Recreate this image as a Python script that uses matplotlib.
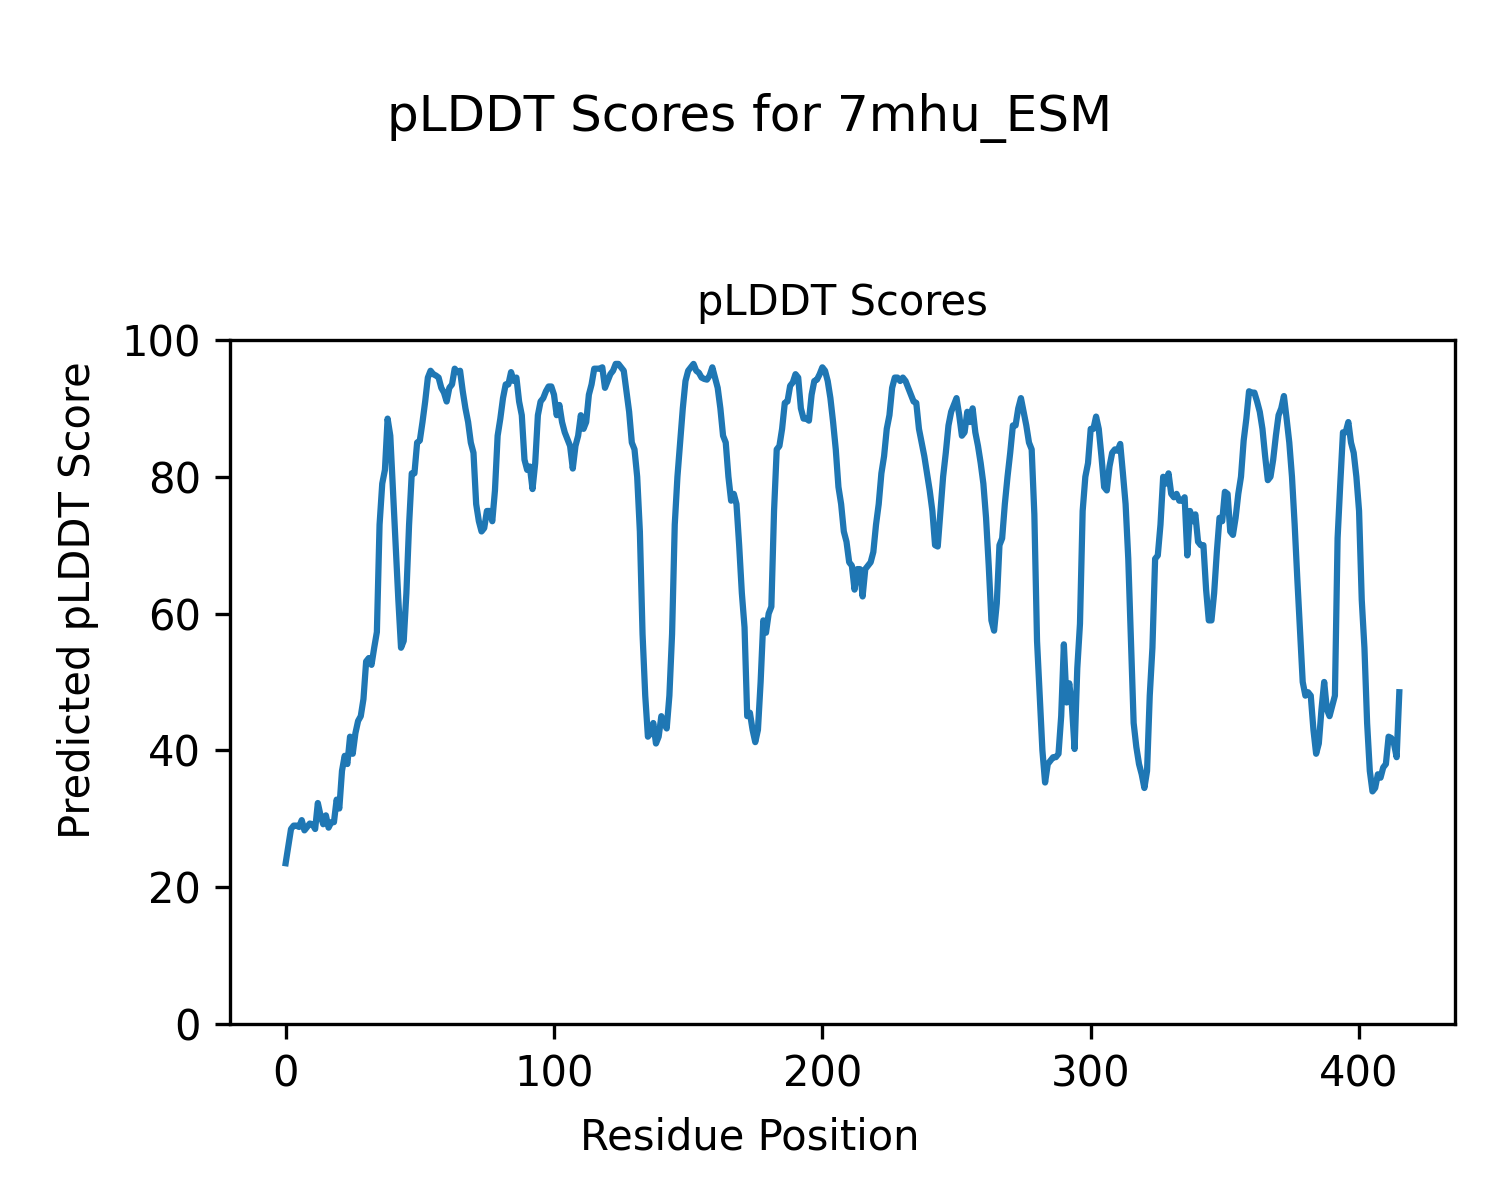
import matplotlib
matplotlib.use("Agg")

import numpy as np
import matplotlib.pyplot as plt

# pLDDT per residue
plddt = [
    23.5, 26, 28.5, 29, 29, 28.8, 29.8, 28.3, 28.8, 29.3,
    29.2, 28.5, 32.3, 30.5, 29.2, 30.5, 28.7, 29.5, 29.5, 32.8,
    31.5, 37, 39.2, 38, 42, 39.5, 42.5, 44.3, 45, 47.5,
    53, 53.5, 52.5, 55, 57.3, 73, 79, 81, 88.5, 86,
    78, 70, 62, 55, 56, 63, 73, 80.5, 80.5, 85,
    85.3, 88, 91, 94.5, 95.5, 95, 94.8, 94.5, 93, 92.3,
    91, 93, 93.5, 95.8, 95.3, 95.5, 92.5, 90, 88, 85,
    83.5, 76, 73.5, 72, 72.5, 75, 75, 73.5, 78, 86,
    88.5, 91.5, 93.5, 93.5, 95.3, 94, 94.5, 91, 89, 82.5,
    81, 81.5, 78.2, 82, 89, 91, 91.5, 92.5, 93.2, 93.2,
    92, 89, 90.5, 88, 86.5, 85.5, 84.5, 81.2, 84.5, 86,
    89, 87, 88, 92, 93.5, 95.8, 95.8, 95.8, 96, 93,
    94, 95, 95.5, 96.5, 96.5, 96, 95.5, 92.5, 89.5, 85,
    84, 80, 72, 57, 48, 42, 42.5, 44, 41, 42,
    45, 44, 43.2, 48, 57, 73, 80, 85, 90, 94,
    95.5, 96, 96.5, 95.5, 95.2, 94.5, 94.3, 94.2, 94.8, 96,
    94.5, 93, 90, 86, 85, 80, 76.5, 77.5, 76, 70,
    63, 58, 45, 45.5, 43, 41.2, 43, 50, 59, 57.2,
    60, 61, 75, 84, 84.5, 87, 90.8, 91, 93.3, 93.8,
    95, 94.5, 90, 88.5, 88.5, 88.2, 92, 94, 94.2, 95,
    96, 95.5, 94, 91.5, 88, 84, 78.5, 76, 72, 70.5,
    67.5, 67, 63.5, 66.5, 66.5, 62.5, 66.5, 67, 67.5, 69,
    73, 76, 80.5, 83, 87, 89, 93, 94.5, 94.5, 94,
    94.5, 94, 93, 92, 91, 90.8, 87, 85, 83, 80.5,
    78, 75, 70, 69.8, 75, 80, 83.5, 87.5, 89.5, 90.5,
    91.5, 89, 86, 86.5, 89.5, 88, 90, 86.5, 84.5, 82,
    79, 74, 67, 59, 57.5, 61.5, 70, 71, 76, 80,
    83.5, 87.5, 87.5, 90, 91.5, 89.5, 87.5, 85, 84, 74.5,
    56, 48, 40, 35.3, 38, 38.5, 39, 39, 39.5, 45,
    55.5, 47, 49.8, 46.5, 40.2, 52, 58.5, 75, 80, 82,
    87, 87, 88.8, 87, 83, 78.5, 78, 81.5, 83.5, 84,
    83.8, 84.8, 80.5, 76, 68, 56, 44, 40.5, 38, 36.5,
    34.5, 37, 48, 55, 68, 68.5, 73, 80, 79, 80.5,
    77.5, 77, 77.5, 76.5, 76.5, 77, 68.5, 75, 73.5, 74.5,
    70.5, 70, 70, 63.5, 59, 59, 63, 69, 74, 73.5,
    77.8, 77.5, 72, 71.5, 74, 77.5, 80, 85.3, 88.5, 92.5,
    92.3, 92.3, 91, 89.5, 87, 83, 79.5, 80, 82.5, 86,
    89, 90, 91.8, 88.5, 85, 80, 73, 65, 57.5, 50,
    48, 48.5, 48, 43, 39.5, 41, 46, 50, 46, 45,
    46.5, 48, 71, 79, 86.5, 86.5, 88, 85, 83.5, 80,
    75, 62, 55, 44, 37, 34, 34.5, 36.5, 36, 37.5,
    38, 42, 41.8, 41, 39, 48.5,
]
residues = np.arange(len(plddt))

fig = plt.figure(figsize=(5, 4), dpi=300)
ax = fig.add_axes([0.1533, 0.1467, 0.8167, 0.57])
ax.plot(residues, plddt, color="#1f77b4", linewidth=1.5)
ax.set_ylim(0, 100)
ax.set_title("pLDDT Scores", fontsize=10)
ax.tick_params(labelsize=10)

fig.suptitle("pLDDT Scores for 7mhu_ESM", fontsize=12, y=0.902, va="center")
fig.text(0.5, 0.052, "Residue Position", ha="center", va="center", fontsize=10)
fig.text(0.052, 0.5, "Predicted pLDDT Score", ha="center", va="center",
         rotation=90, fontsize=10)

fig.savefig("out.png", dpi=300)
plt.close(fig)
